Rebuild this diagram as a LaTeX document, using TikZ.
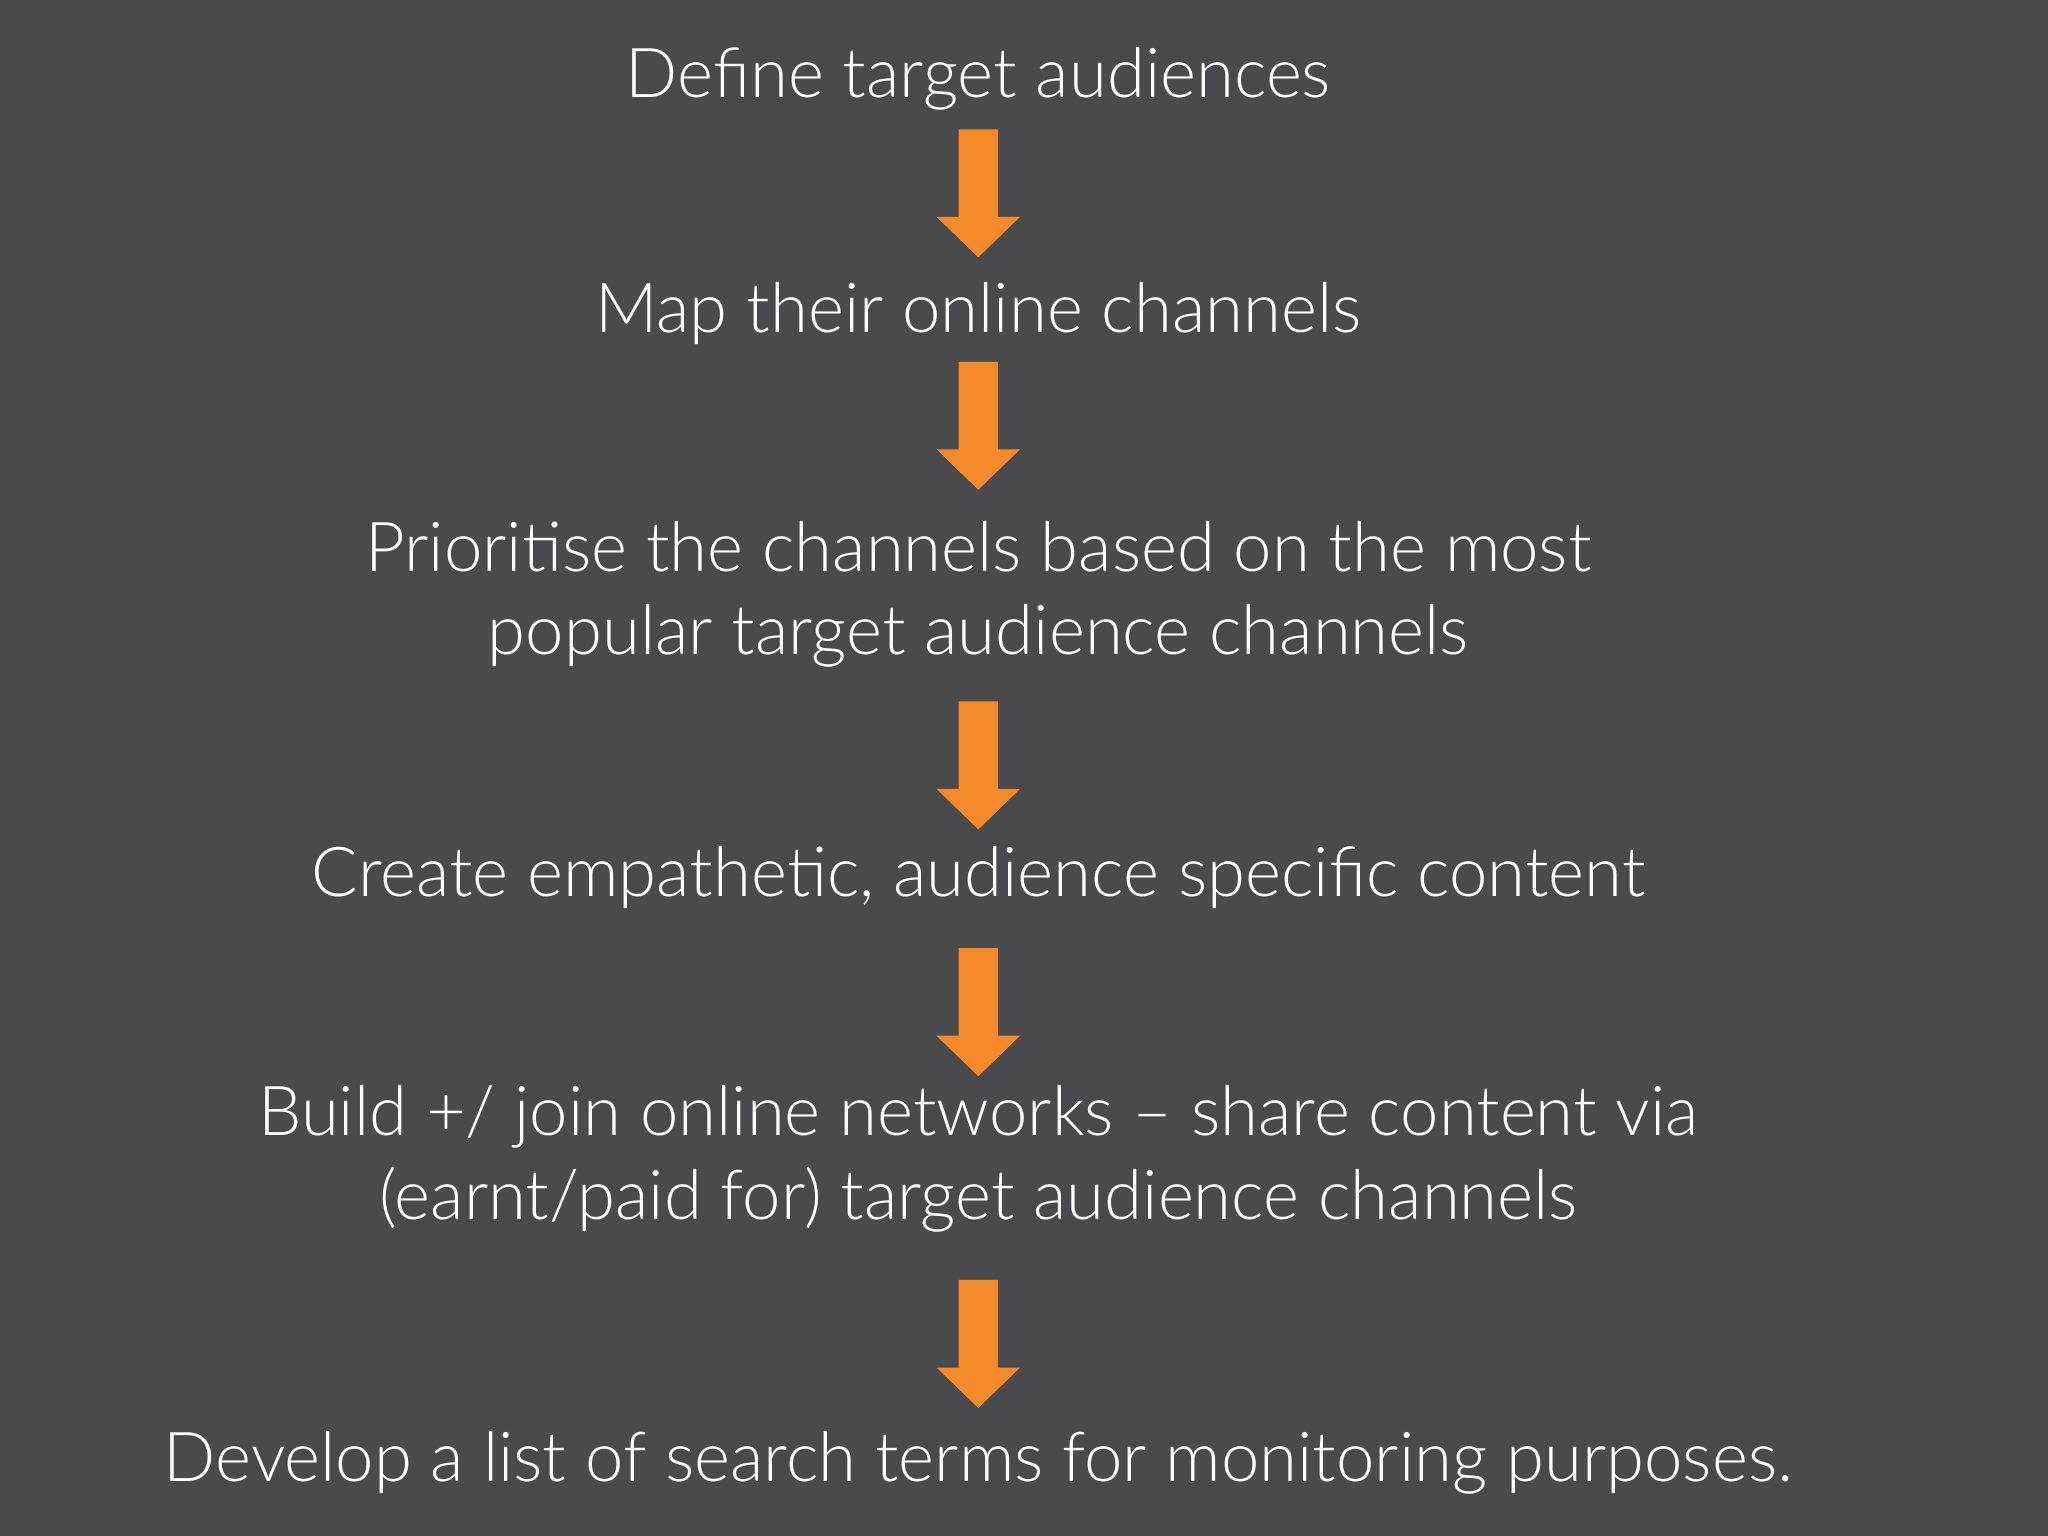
\documentclass[tikz,border=0pt]{standalone}
\usepackage{fontspec}
\setmainfont{Lato}[UprightFont=* Light]
\definecolor{bg}{HTML}{4A494B}
\definecolor{org}{HTML}{F58A2A}
\begin{document}
\begin{tikzpicture}[x=0.02cm,y=0.02cm,
  lbl/.style={text=white,font=\fontsize{30}{36.5}\selectfont,align=center,inner sep=0pt},
  arr/.style={fill=org,draw=none}]
\fill[bg] (0,0) rectangle (1568,1176);
\useasboundingbox (0,0) rectangle (1568,1176);
\node[lbl] (t1) at (749,1116) {Define target audiences};
\node[lbl] (t2) at (749,936) {Map their online channels};
\node[lbl] (t3) at (749,721) {Prioritise the channels based on the most\\popular target audience channels};
\node[lbl] (t4) at (749,504) {Create empathetic, audience specific content};
\node[lbl] (t5) at (749,289) {Build +/ join online networks -- share content via\\(earnt/paid for) target audience channels};
\node[lbl] (t6) at (749,56) {Develop a list of search terms for monitoring purposes.};
\foreach \top in {1077,899,639,450,196}{
  \fill[arr] (734,\top) -- (764,\top) -- (764,\top-67) -- (781,\top-67) -- (749,\top-98) -- (717,\top-67) -- (734,\top-67) -- cycle;
}
\end{tikzpicture}
\end{document}
